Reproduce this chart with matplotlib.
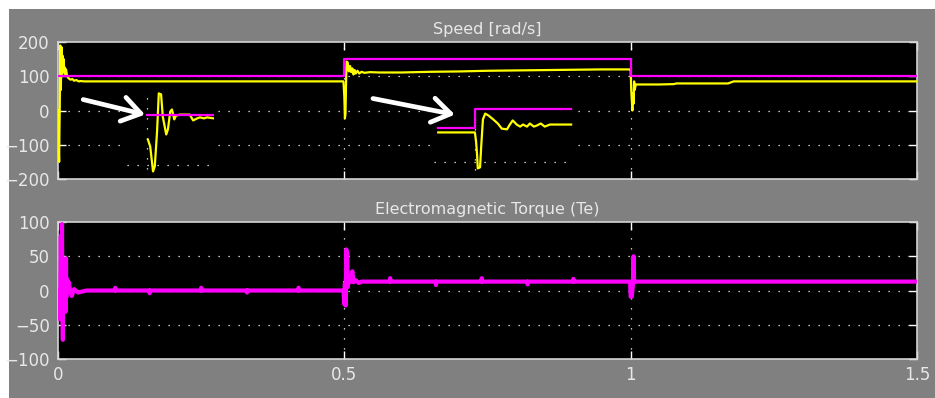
import matplotlib
matplotlib.use("Agg")
import matplotlib.pyplot as plt
from matplotlib.patches import Rectangle

# ---------------- data ----------------
# speed reference (magenta), step values
ref_t = [0.0, 0.5, 1.0, 1.5]
ref_w = [100, 150, 100, 100]

# measured speed (yellow)
speed_t = [0, .001, .002, .0025, .003, .004, .005, .006, .007, .008, .009, .010,
           .011, .012, .013, .014, .016, .018, .020, .022, .025, .028, .032, .036,
           .040, .045, .4985,
           .500, .501, .502, .503, .504, .506, .507, .508, .510, .512, .514, .516,
           .518, .520, .523, .526, .530, .535, .545, .56, .60, .65, .70, .75, .80,
           .85, .90, .95, .999,
           1.000, 1.001, 1.003, 1.004, 1.005, 1.006, 1.007, 1.009, 1.02, 1.05,
           1.075, 1.08, 1.17, 1.18, 1.5]
speed_w = [0, -100, -150, -60, 0, 190, 60, 185, 100, 160, 120, 150,
           110, 125, 105, 120, 100, 95, 92, 90, 92, 87, 89, 85,
           86, 85, 85,
           40, -23, -10, 80, 143, 140, 120, 114, 130, 112, 123, 105,
           118, 108, 116, 108, 113, 110, 112, 111, 111, 113, 114, 116, 117,
           118, 119, 120, 120,
           120, 60, 0, 50, 20, 85, 60, 76, 76, 76,
           77, 79, 79, 85, 85]

# zoom window 1 (speed reversal detail)
zoom1_ref_t = [0.155, 0.272]
zoom1_ref_w = [-12, -12]
zoom1_t = [.157, .161, .166, .169, .173, .176, .180, .183, .189, .192, .196, .199,
           .203, .206, .213, .230, .236, .243, .248, .255, .260, .272]
zoom1_w = [-85, -105, -178, -163, -61, 50, 47, -18, -70, -55, -3, 3,
           -26, -15, -12, -12, -29, -23, -20, -23, -20, -23]

# zoom window 2 (speed step detail)
zoom2_ref_t = [0.664, 0.728, 0.728, 0.896]
zoom2_ref_w = [-50, -50, 3, 3]
zoom2_t = [.664, .728, .730, .732, .733, .737, .739, .742, .746, .752, .760, .768,
           .775, .784, .789, .794, .801, .807, .812, .819, .824, .831, .836, .843,
           .850, .859, .896]
zoom2_w = [-64, -64, -90, -134, -169, -166, -105, -26, -9, -15, -26, -38,
           -53, -55, -41, -29, -41, -47, -41, -47, -38, -47, -44, -38,
           -47, -41, -41]

# electromagnetic torque (magenta)
torque_t = [0, .001, .002, .003, .004, .005, .006, .007, .0075, .008, .0085, .009,
            .010, .012, .013, .014, .0145, .015, .016, .0175, .019, .021, .024,
            .028, .035, .05,
            .0995, .100, .1005, .1595, .160, .1605, .2495, .250, .2505,
            .3295, .330, .3305, .4195, .420, .4205, .4985,
            .500, .501, .502, .503, .5035, .504, .505, .506, .507, .510, .514, .516,
            .520, .525, .53,
            .5795, .580, .5805, .6595, .660, .6605, .7395, .740, .7405,
            .8195, .820, .8205, .8995, .900, .9005, .999,
            1.000, 1.002, 1.004, 1.005, 1.006, 1.007, 1.008, 1.5]
torque_T = [0, -40, -5, -42, 0, 80, -30, 97, 10, -40, -72, 5,
            -20, 5, -31, 47, -10, 5, 16, -2, 12, 0, -8,
            2, -3, 0,
            0, 4, 0, 0, -4, 0, 0, 4, 0,
            0, -3, 0, 0, 4, 0, 0,
            -20, 10, -22, 20, 60, 40, 55, 5, 18, 12, 28, 12,
            15, 11, 13,
            13, 18, 13, 13, 8, 13, 13, 18, 13,
            13, 9, 13, 13, 17, 13, 13,
            -9, -9, 10, 50, 12, 13, 13, 13]

# load torque (yellow)
load_t = [0.0, 0.5, 1.5]
load_T = [0, 13, 13]

speed_yticks = [-200, -100, 0, 100, 200]
torque_yticks = [-100, -50, 0, 50, 100]
xticks = [0, 0.5, 1, 1.5]
xtick_labels = ["0", "0.5", "1", "1.5"]
titles = ["Speed [rad/s]", "Electromagnetic Torque (Te)"]

# arrows pointing to zoom windows: (tail_t, tail_w, head_t, head_w)
arrows = [(0.044, 32, 0.152, -12), (0.55, 35, 0.693, -12)]

# ---------------- style ----------------
GREY = "#808080"
FRAME = "#d4d4d4"
TXT = "#e8e8e8"
YEL = "#ffff00"
MAG = "#ff00ff"
W, H = 935, 398

fig = plt.figure(figsize=(W / 100, H / 100), dpi=100, facecolor="white")
fig.patches.append(Rectangle((9 / W, 0), 1, 1 - 9 / H, transform=fig.transFigure,
                             facecolor=GREY, edgecolor="none", zorder=-10))

def fpos(x0, y0, x1, y1):
    return [x0 / W, 1 - y1 / H, (x1 - x0) / W, (y1 - y0) / H]

ax1 = fig.add_axes(fpos(58, 42, 917, 179))
ax2 = fig.add_axes(fpos(58, 222, 917, 359))

grid_kw = dict(color="white", lw=0.9, linestyle=(0, (1, 7)))

def style(ax, yticks, title, show_x):
    ax.set_facecolor("black")
    for s in ax.spines.values():
        s.set_color(FRAME)
        s.set_linewidth(1.2)
    ax.set_xlim(0, 1.5)
    ax.set_ylim(yticks[0], yticks[-1])
    ax.set_xticks(xticks)
    ax.set_yticks(yticks)
    ax.tick_params(direction="in", length=6, width=1, color="white",
                   top=True, right=True, labelcolor=TXT, labelsize=12)
    ax.tick_params(axis="y", pad=6)
    ax.tick_params(axis="x", pad=5)
    if show_x:
        ax.set_xticklabels(xtick_labels)
    else:
        ax.set_xticklabels([])
    for v in yticks[1:-1]:
        ax.axhline(v, zorder=1, **grid_kw)
    for v in xticks[1:-1]:
        ax.axvline(v, zorder=1, **grid_kw)
    ax.set_title(title, color=TXT, fontsize=11.5, pad=6)

style(ax1, speed_yticks, titles[0], False)
style(ax2, torque_yticks, titles[1], True)

# speed panel
ax1.plot(speed_t, speed_w, color=YEL, lw=1.6, zorder=3)
ax1.plot(ref_t, ref_w, color=MAG, lw=1.6, drawstyle="steps-post", zorder=4)

# torque panel
ax2.plot(load_t, load_T, color=YEL, lw=1.5, drawstyle="steps-post", zorder=2)
ax2.plot(torque_t, torque_T, color=MAG, lw=3.0, zorder=3)

# zoom windows
def zoom_window(t0, t1, w0, w1, grid_t, grid_w, rt, rw, yt, yw, arrow):
    axi = ax1.inset_axes([t0, w0, t1 - t0, w1 - w0], transform=ax1.transData)
    axi.set_facecolor("black")
    axi.set_xlim(t0, t1)
    axi.set_ylim(w0, w1)
    axi.set_xticks([])
    axi.set_yticks([])
    for s in axi.spines.values():
        s.set_visible(False)
    axi.axvline(grid_t, ymin=0.05, ymax=0.95, zorder=1, **grid_kw)
    axi.axhline(grid_w, xmin=0.0, xmax=0.96, zorder=1, **grid_kw)
    axi.plot(yt, yw, color=YEL, lw=1.6, zorder=3)
    axi.plot(rt, rw, color=MAG, lw=1.6, zorder=4)
    axi.annotate("", xy=(arrow[2], arrow[3]), xytext=(arrow[0], arrow[1]),
                 xycoords=ax1.transData, textcoords=ax1.transData,
                 annotation_clip=False,
                 arrowprops=dict(arrowstyle="->,head_length=0.6,head_width=0.4",
                                 color="white", lw=3.4, mutation_scale=22,
                                 shrinkA=0, shrinkB=0))
    return axi

zoom_window(0.120, 0.272, -184, 61, 0.155, -158,
            zoom1_ref_t, zoom1_ref_w, zoom1_t, zoom1_w, arrows[0])
zoom_window(0.656, 0.903, -184, 26, 0.728, -149,
            zoom2_ref_t, zoom2_ref_w, zoom2_t, zoom2_w, arrows[1])

fig.savefig("out.png", dpi=100, facecolor=fig.get_facecolor())
